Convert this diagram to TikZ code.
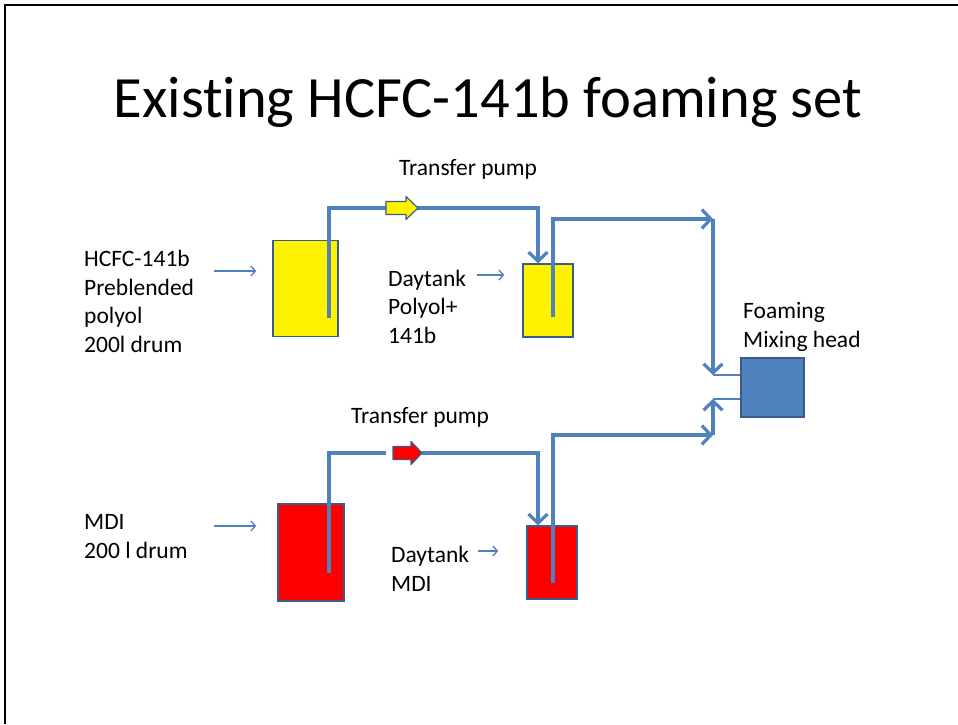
\documentclass[tikz,border=0pt]{standalone}
\usepackage{fontspec}
\setmainfont{Carlito}[Ligatures=NoCommon]
\usetikzlibrary{arrows.meta,positioning}

\definecolor{pipeblue}{HTML}{4F81BD}
\definecolor{edgeblue}{HTML}{385D8A}

\begin{document}
\begin{tikzpicture}[
    x=1pt, y=-1pt,
    >={Straight Barb[length=9pt,width=19pt,line width=3.2pt]},
    pipe/.style={line width=3.5pt, pipeblue},
    feed/.style={line width=1.5pt, pipeblue},
    note/.style={line width=1.3pt, pipeblue, -{Straight Barb[length=4.5pt,width=10pt]}},
    tank/.style={draw=edgeblue, line width=1.5pt, inner sep=0pt},
    pumpshape/.style={draw=edgeblue, line width=1.2pt, line join=round},
    lbl/.style={font=\fontsize{23.5}{28.5}\selectfont, align=left, anchor=base west, inner sep=0pt}
]

\useasboundingbox (0,0) rectangle (958,724);

% Frame

\draw[
    line width=2pt,
    black
] (5,724) -- (5,5) -- (958,5);


% Title

\node[
    font=\fontsize{58.5}{62}\selectfont,
    anchor=base
] (title) at (488,117) {Existing HCFC-141b foaming set};


% Drums and daytanks

\node[tank, fill=yellow, minimum width=65pt, minimum height=96pt] (drumA) at (305.5,288.5) {};
\node[tank, fill=yellow, minimum width=50pt, minimum height=73pt] (dayA) at (548,300.5) {};
\node[tank, fill=red, minimum width=66pt, minimum height=97pt] (drumB) at (311,552.5) {};
\node[tank, fill=red, minimum width=50pt, minimum height=73pt] (dayB) at (552,562.5) {};

% Mixing head

\node[tank, fill=pipeblue, minimum width=63pt, minimum height=59pt] (head) at (772.5,387.5) {};


% Pipes

\coordinate (tubeA) at (329,318);
\coordinate (tubeB) at (553,317);
\coordinate (tubeC) at (329,573);
\coordinate (tubeD) at (553,583);
\coordinate (joinA) at (713,219);
\coordinate (joinB) at (713,435);
\coordinate (inA) at (713,375);
\coordinate (inB) at (713,399);
\coordinate (pumpA) at (402,208);
\coordinate (pumpB) at (407.5,453);

\draw[
    pipe,
    ->
] (tubeA) |- ([xshift=-10pt]dayA.north |- pumpA) -- ([xshift=-10pt]dayA.north);

\draw[
    pipe
] (tubeC) |- ([xshift=-21.5pt]pumpB);

\draw[
    pipe,
    ->
] ([xshift=14.5pt]pumpB) -| ([xshift=-14pt]dayB.north);

\draw[
    pipe,
    ->
] (tubeB) |- (joinA);

\draw[
    pipe,
    ->
] (joinA) -- (inA);

\draw[
    pipe,
    ->
] (tubeD) |- (joinB);

\draw[
    pipe,
    ->
] (joinB) -- (inB);

\draw[feed] (inA) -- (head.west |- inA);
\draw[feed] (inB) -- (head.west |- inB);


% Transfer pumps

\filldraw[
    pumpshape,
    fill=yellow
] ([shift={(-16,-6.5)}]pumpA) -- ++(20,0) -- ++(0,-5) -- ++(12,11.5)
    -- ++(-12,11.5) -- ++(0,-5) -- ++(-20,0) -- cycle;

\filldraw[
    pumpshape,
    fill=red
] ([shift={(-14.5,-6.5)}]pumpB) -- ++(18,0) -- ++(0,-5) -- ++(11,11.5)
    -- ++(-11,11.5) -- ++(0,-5) -- ++(-18,0) -- cycle;


% Labels

\node[lbl] (lblA) at (84,352) {HCFC-141b\\Preblended\\polyol\\200l drum};
\node[lbl] (lblpumpA) at (399,175) {Transfer pump};
\node[lbl] (lbldayA) at (388,343) {Daytank\\Polyol+\\141b};
\node[lbl] (lblB) at (84,558) {MDI\\200 l drum};
\node[lbl] (lblpumpB) at (351,423) {Transfer pump};
\node[lbl] (lbldayB) at (391,591) {Daytank\\MDI};
\node[lbl] (lblhead) at (743,347) {Foaming\\Mixing head};

\draw[note] (214,271) -- ([xshift=-16pt]drumA.west |- 0,271);
\draw[note] (477,275) -- ([xshift=-18pt]dayA.west |- 0,275);
\draw[note] (214,526) -- ([xshift=-21pt]drumB.west |- 0,526);
\draw[note] (478,551) -- ([xshift=-28pt]dayB.west |- 0,551);

\end{tikzpicture}
\end{document}
